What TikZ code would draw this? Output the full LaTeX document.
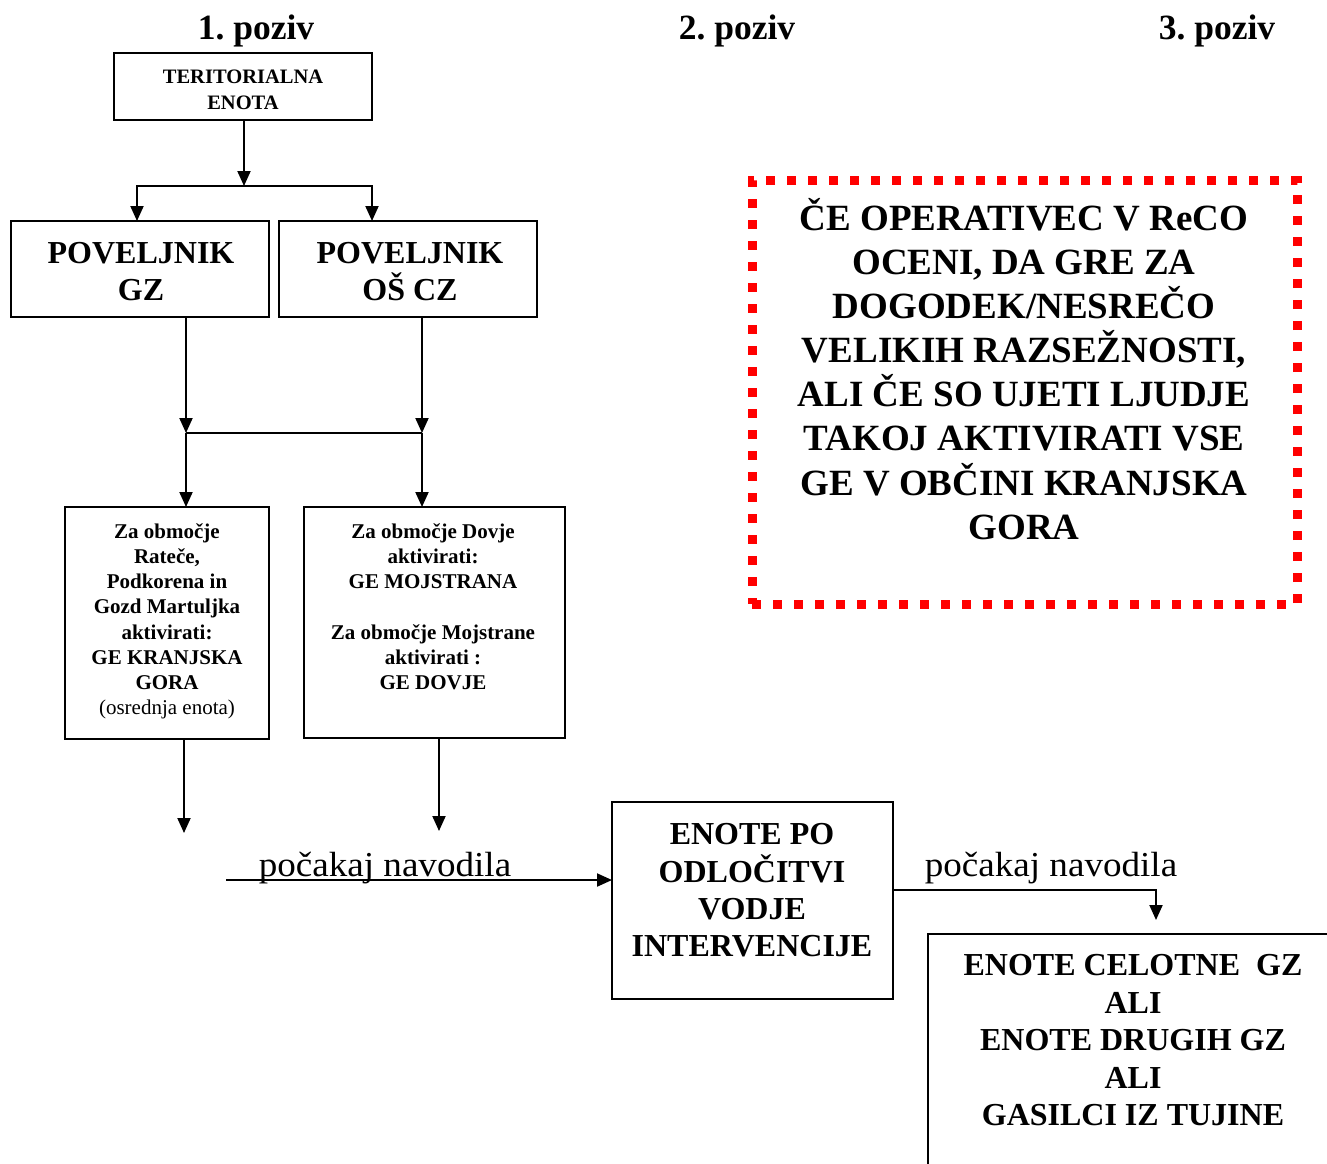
\documentclass[tikz,border=0pt]{standalone}
\usepackage{fontspec}
\setmainfont{Liberation Serif}
\newfontfamily\stretchserif[FakeStretch=1.06]{Liberation Serif}
\usetikzlibrary{arrows.meta}
\newcommand\tallrule{\rule{0pt}{1em}}
\frenchspacing
\begin{document}
\begin{tikzpicture}[x=1pt,y=-1pt,
  box/.style={draw, line width=2pt, inner sep=0pt, outer sep=0pt, anchor=north west},
  txt/.style={inner sep=0pt, anchor=north, align=center},
  arr/.style={line width=2pt, -{Triangle[length=15pt,width=13pt]}},
  ln/.style={line width=2pt},
  hdr/.style={anchor=base, inner sep=0pt, font=\fontsize{35.5}{40}\selectfont\bfseries},
  wait/.style={anchor=base, inner sep=0pt, font=\stretchserif\fontsize{35}{40}\selectfont}]
\useasboundingbox (0,0) rectangle (1327,1163);
\clip (0,0) rectangle (1327,1163);
\fill[white] (0,0) rectangle (1327,1163);

% headers
\node[hdr] (p1) at (256,39) {1. poziv};
\node[hdr] (p2) at (737,39) {2. poziv};
\node[hdr] (p3) at (1217,39) {3. poziv};

% boxes
\node[box, minimum width=258pt, minimum height=67pt] (ter) at (114,53) {};
\node[box, minimum width=258pt, minimum height=96pt] (gz) at (11,221) {};
\node[box, minimum width=258pt, minimum height=96pt] (os) at (279,221) {};
\node[box, minimum width=204pt, minimum height=232pt] (b3) at (65,507) {};
\node[box, minimum width=261pt, minimum height=231pt] (b4) at (304,507) {};
\node[box, minimum width=281pt, minimum height=197pt] (enote) at (612,802) {};
\node[box, minimum width=420pt, minimum height=260pt] (celot) at (928,934) {};
\node[draw=red, line width=9pt, dash pattern=on 9pt off 12pt, inner sep=0pt, outer sep=0pt,
      anchor=north west, minimum width=545pt, minimum height=424pt] (warn) at (752,180) {};

% texts
\node[txt, font=\fontsize{20.5}{25.5}\selectfont\bfseries] (tert) at (243,62.8)
  {\tallrule TERITORIALNA\\ENOTA};
\node[txt, font=\fontsize{32}{37.5}\selectfont\bfseries] (gzt) at (141,231.1)
  {\tallrule POVELJNIK\\GZ};
\node[txt, font=\fontsize{32}{37.5}\selectfont\bfseries] (ost) at (410,231.1)
  {\tallrule POVELJNIK\\OŠ CZ};
\node[txt, font=\fontsize{21}{25.2}\selectfont\bfseries] (b3t) at (167,517)
  {\tallrule Za območje\\Rateče,\\Podkorena in\\Gozd Martuljka\\aktivirati:\\GE KRANJSKA\\GORA\\{\mdseries (osrednja enota)}};
\node[txt, font=\fontsize{21}{25.2}\selectfont\bfseries] (b4t) at (433,517)
  {\tallrule Za območje Dovje\\aktivirati:\\GE MOJSTRANA\\[25.2pt]Za območje Mojstrane\\aktivirati :\\GE DOVJE};
\node[txt, font=\fontsize{32}{37.2}\selectfont\bfseries] (enotet) at (752,812.6)
  {\tallrule ENOTE PO\\ODLOČITVI\\VODJE\\INTERVENCIJE};
\node[txt, font=\fontsize{32}{37.5}\selectfont\bfseries] (celott) at (1133,943.6)
  {\tallrule ENOTE CELOTNE\ \ GZ\\ALI\\ENOTE DRUGIH GZ\\ALI\\GASILCI IZ TUJINE};
\node[txt, font=\fontsize{37}{44.1}\selectfont\bfseries] (warnt) at (1024,193.2)
  {\tallrule ČE OPERATIVEC V ReCO\\OCENI, DA GRE ZA\\DOGODEK/NESREČO\\VELIKIH RAZSEŽNOSTI,\\ALI ČE SO UJETI LJUDJE\\TAKOJ AKTIVIRATI VSE\\GE V OBČINI KRANJSKA\\GORA};

\node[wait] (l1) at (385,876) {počakaj navodila};
\node[wait] (l2) at (1051,876) {počakaj navodila};

% connectors
\coordinate (j0) at (244,186);
\coordinate (jl) at (137,186);
\coordinate (jr) at (372,186);
\draw[arr] (j0 |- ter.south) -- (j0);
\draw[arr] (j0) -| (jl |- gz.north);
\draw[arr] (j0) -| (jr |- os.north);

\coordinate (ml) at (186,433);
\coordinate (mr) at (422,433);
\draw[arr] (ml |- gz.south) -- (ml);
\draw[arr] (mr |- os.south) -- (mr);
\draw[line width=1.6pt] (ml) -- (mr);
\draw[arr] (ml) -- (ml |- b3.north);
\draw[arr] (mr) -- (mr |- b4.north);

\coordinate (e3) at (184,833);
\coordinate (e4) at (439,831);
\draw[arr] (e3 |- b3.south) -- (e3);
\draw[arr] (e4 |- b4.south) -- (e4);

\coordinate (s1) at (226,880);
\draw[arr] (s1) -- (s1 -| enote.west);

\coordinate (r0) at (900,890);
\coordinate (s2) at (1156,920);
\draw[arr] (enote.east |- r0) -| (s2);
\end{tikzpicture}
\end{document}
